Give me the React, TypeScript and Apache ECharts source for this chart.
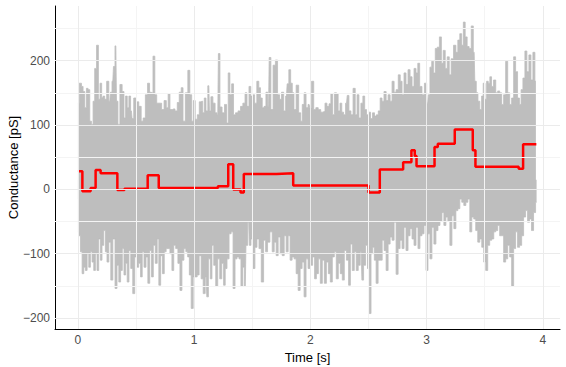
import React, { useEffect, useRef } from "react";
import * as echarts from "echarts";

// Red fitted step levels: [time s, conductance pS] at each change point
const redSteps: [number, number][] = [
  [0.0, 28], [0.038, -3], [0.109, 2], [0.152, 30], [0.195, 25], [0.339, -1], [0.4, 1],
  [0.6, 22], [0.695, 2], [1.204, 5], [1.293, 39], [1.336, 0], [1.399, -5], [1.427, 24],
  [1.708, 25], [1.852, 6], [2.5, -5], [2.597, 31], [2.798, 42], [2.869, 61], [2.898, 52],
  [2.913, 36], [3.068, 66], [3.096, 71], [3.242, 93], [3.397, 61], [3.42, 35], [3.792, 32],
  [3.83, 70], [3.944, 70],
];

// Upper envelope of the raw gray trace
const upperEnvelope: [number, number][] = [
  [0.0, 134], [0.023, 165], [0.037, 160], [0.051, 152], [0.066, 127], [0.08, 157], [0.094, 155],
  [0.109, 106], [0.123, 101], [0.137, 137], [0.151, 188], [0.169, 224], [0.183, 140], [0.197, 165],
  [0.211, 142], [0.223, 145], [0.237, 140], [0.257, 168], [0.274, 137], [0.286, 151], [0.3, 168],
  [0.311, 191], [0.326, 223], [0.337, 137], [0.351, 101], [0.371, 163], [0.389, 152], [0.403, 111],
  [0.417, 145], [0.431, 127], [0.446, 145], [0.46, 122], [0.471, 110], [0.489, 142], [0.509, 136],
  [0.537, 129], [0.551, 106], [0.571, 111], [0.589, 147], [0.609, 165], [0.623, 151], [0.637, 150],
  [0.654, 207], [0.669, 147], [0.686, 134], [0.709, 134], [0.731, 124], [0.751, 138], [0.769, 127],
  [0.783, 149], [0.8, 124], [0.823, 125], [0.846, 122], [0.863, 135], [0.88, 151], [0.897, 158],
  [0.911, 106], [0.937, 150], [0.954, 185], [0.971, 147], [0.986, 106], [1.0, 138], [1.017, 109],
  [1.037, 116], [1.051, 136], [1.066, 137], [1.08, 119], [1.094, 142], [1.109, 122], [1.126, 161],
  [1.137, 122], [1.151, 144], [1.171, 134], [1.189, 119], [1.203, 116], [1.214, 211], [1.229, 128],
  [1.251, 119], [1.271, 132], [1.286, 103], [1.3, 181], [1.314, 147], [1.331, 164], [1.346, 116],
  [1.366, 119], [1.389, 122], [1.409, 129], [1.429, 134], [1.446, 150], [1.463, 129], [1.48, 160],
  [1.494, 145], [1.511, 147], [1.529, 134], [1.549, 168], [1.563, 158], [1.577, 142], [1.594, 127],
  [1.609, 129], [1.626, 151], [1.64, 129], [1.651, 205], [1.669, 124], [1.689, 193], [1.709, 201],
  [1.726, 147], [1.743, 140], [1.76, 151], [1.78, 122], [1.794, 145], [1.806, 164], [1.823, 186],
  [1.837, 165], [1.851, 150], [1.866, 124], [1.889, 162], [1.909, 119], [1.923, 106], [1.937, 132],
  [1.954, 150], [1.971, 127], [1.989, 132],
  [2.0, 127], [2.02, 168], [2.037, 124], [2.057, 127], [2.077, 124], [2.1, 120], [2.117, 121],
  [2.134, 134], [2.151, 129], [2.169, 133], [2.183, 149], [2.2, 116], [2.214, 150], [2.231, 149],
  [2.246, 122], [2.263, 134], [2.277, 120], [2.294, 116], [2.311, 134], [2.323, 146], [2.34, 122],
  [2.357, 116], [2.377, 157], [2.394, 116], [2.409, 147], [2.426, 111], [2.443, 134], [2.46, 145],
  [2.474, 124], [2.491, 116], [2.509, 120], [2.526, 110], [2.543, 119], [2.56, 114], [2.577, 116],
  [2.591, 122], [2.609, 142], [2.623, 137], [2.643, 152], [2.66, 138], [2.677, 147], [2.694, 137],
  [2.711, 168], [2.729, 151], [2.746, 155], [2.766, 178], [2.78, 168], [2.797, 147], [2.814, 181],
  [2.831, 163], [2.849, 186], [2.866, 175], [2.883, 160], [2.9, 188], [2.917, 181], [2.931, 196],
  [2.949, 160], [2.971, 147], [2.991, 165], [3.009, 134], [3.02, 147], [3.037, 190], [3.051, 199],
  [3.066, 181], [3.083, 219], [3.1, 221], [3.12, 237], [3.134, 196], [3.151, 216], [3.169, 188],
  [3.186, 206], [3.203, 178], [3.22, 203], [3.243, 224], [3.26, 213], [3.277, 232], [3.294, 242],
  [3.309, 224], [3.323, 260], [3.34, 237], [3.357, 222], [3.374, 219], [3.394, 254], [3.409, 213],
  [3.42, 168], [3.434, 150], [3.449, 137], [3.466, 124], [3.48, 145], [3.494, 165], [3.509, 140],
  [3.523, 168], [3.537, 165], [3.551, 175], [3.566, 160], [3.586, 170], [3.603, 150], [3.62, 153],
  [3.637, 150], [3.654, 132], [3.671, 147], [3.689, 199], [3.706, 150], [3.723, 132], [3.74, 142],
  [3.757, 206], [3.774, 183], [3.791, 142], [3.806, 132], [3.82, 155], [3.837, 173], [3.854, 215],
  [3.871, 183], [3.889, 209], [3.906, 170], [3.923, 213], [3.94, 168],
];

// Lower envelope of the raw gray trace
const lowerEnvelope: [number, number][] = [
  [0.0, -66], [0.014, -72], [0.029, -97], [0.043, -131], [0.057, -121], [0.071, -126], [0.086, -100],
  [0.1, -121], [0.114, -97], [0.129, -113], [0.143, -126], [0.157, -100], [0.171, -126], [0.186, -77],
  [0.2, -110], [0.214, -87], [0.229, -64], [0.243, -97], [0.257, -113], [0.274, -82], [0.291, -141],
  [0.309, -77], [0.329, -154], [0.343, -118], [0.36, -144], [0.374, -126], [0.389, -92], [0.403, -133],
  [0.417, -115], [0.431, -144], [0.446, -95], [0.463, -123], [0.48, -162], [0.497, -105], [0.514, -121],
  [0.531, -115], [0.546, -136], [0.56, -97], [0.577, -121], [0.594, -105], [0.609, -146], [0.626, -95],
  [0.64, -136], [0.657, -87], [0.674, -115], [0.689, -77], [0.703, -149], [0.72, -103], [0.734, -131],
  [0.751, -97], [0.766, -92], [0.783, -92], [0.8, -100], [0.817, -126], [0.831, -87], [0.851, -92],
  [0.869, -115], [0.886, -157], [0.903, -110], [0.92, -92], [0.937, -97], [0.951, -105], [0.966, -133],
  [0.983, -185], [1.0, -136], [1.017, -136], [1.034, -133], [1.051, -103], [1.069, -139], [1.086, -162],
  [1.103, -136], [1.114, -167], [1.131, -108], [1.146, -139], [1.16, -87], [1.177, -118], [1.194, -151],
  [1.211, -108], [1.229, -139], [1.246, -115], [1.26, -149], [1.274, -123], [1.291, -108], [1.309, -69],
  [1.326, -66], [1.343, -154], [1.36, -108], [1.377, -105], [1.394, -108], [1.411, -151], [1.426, -121],
  [1.44, -151], [1.451, -87], [1.469, -51], [1.48, -87], [1.497, -77], [1.514, -123], [1.531, -90],
  [1.549, -77], [1.566, -92], [1.589, -144], [1.606, -79], [1.623, -97], [1.64, -82], [1.663, -66],
  [1.68, -97], [1.697, -82], [1.714, -103], [1.731, -74], [1.749, -100], [1.766, -103], [1.783, -72],
  [1.8, -97], [1.817, -72], [1.834, -110], [1.851, -105], [1.869, -108], [1.886, -131], [1.903, -157],
  [1.92, -123], [1.937, -113], [1.954, -167], [1.971, -108], [1.989, -123],
  [2.009, -118], [2.029, -105], [2.043, -139], [2.06, -131], [2.077, -108], [2.094, -146], [2.111, -110],
  [2.129, -146], [2.146, -113], [2.163, -131], [2.18, -144], [2.197, -105], [2.214, -97], [2.231, -139],
  [2.249, -115], [2.266, -131], [2.283, -141], [2.3, -95], [2.32, -110], [2.337, -149], [2.351, -85],
  [2.369, -126], [2.386, -97], [2.403, -126], [2.42, -118], [2.437, -97], [2.449, -141], [2.466, -118],
  [2.483, -87], [2.5, -123], [2.514, -193], [2.529, -100], [2.543, -90], [2.557, -110], [2.574, -146],
  [2.591, -110], [2.609, -110], [2.626, -79], [2.643, -95], [2.66, -126], [2.677, -85], [2.694, -74],
  [2.711, -79], [2.729, -51], [2.746, -132], [2.763, -92], [2.78, -79], [2.797, -92], [2.814, -59],
  [2.831, -95], [2.849, -72], [2.866, -61], [2.883, -77], [2.9, -87], [2.917, -59], [2.934, -92],
  [2.951, -72], [2.969, -69], [2.986, -56], [3.003, -126], [3.02, -69], [3.037, -108], [3.054, -59],
  [3.071, -85], [3.089, -64], [3.106, -56], [3.123, -49], [3.14, -36], [3.157, -56], [3.174, -43],
  [3.191, -49], [3.209, -87], [3.226, -41], [3.243, -61], [3.26, -33], [3.277, -30], [3.294, -15],
  [3.311, -20], [3.329, -25], [3.346, -20], [3.363, -15], [3.38, -66], [3.397, -43], [3.414, -46],
  [3.431, -64], [3.449, -82], [3.466, -77], [3.483, -90], [3.5, -113], [3.517, -126], [3.534, -87],
  [3.551, -79], [3.569, -77], [3.586, -66], [3.603, -64], [3.62, -56], [3.637, -72], [3.654, -72],
  [3.671, -113], [3.689, -108], [3.706, -87], [3.723, -105], [3.74, -150], [3.757, -92], [3.774, -66],
  [3.791, -90], [3.809, -87], [3.826, -72], [3.843, -43], [3.86, -33], [3.877, -51], [3.894, -46],
  [3.911, -64], [3.929, -36], [3.946, -20],
];

const xMajor = [0, 1, 2, 3, 4];
const xMinor = [0.5, 1.5, 2.5, 3.5];
const yMajor = [-200, -100, 0, 100, 200];
const yMinor = [-150, -50, 50, 150, 250];
const xLimits = [-0.1975, 4.1475];
const yLimits = [-217, 285];
const xTitle = "Time [s]";
const yTitle = "Conductance [pS]";

const FONT = "'Liberation Sans', Arial, Helvetica, sans-serif";

export default function App() {
  const ref = useRef<HTMLDivElement>(null);
  useEffect(() => {
    const chart = echarts.init(ref.current!, null, { renderer: "svg" });
    const minus = (v: number) => (v < 0 ? "\u2212" + Math.abs(v) : String(v));
    const isIn = (arr: number[], v: number) => arr.some((a) => Math.abs(a - v) < 1e-9);
    const majorStyle = { color: "#ebebeb", width: 1, type: "solid" };
    const minorStyle = { color: "#f4f4f4", width: 1, type: "solid" };
    const gridLines = [
      ...xMinor.map((v) => ({ xAxis: v, lineStyle: minorStyle })),
      ...yMinor.map((v) => ({ yAxis: v, lineStyle: minorStyle })),
      ...xMajor.map((v) => ({ xAxis: v, lineStyle: majorStyle })),
      ...yMajor.map((v) => ({ yAxis: v, lineStyle: majorStyle })),
    ];
    chart.setOption({
      animation: false,
      backgroundColor: "#ffffff",
      grid: { left: 55, right: 6, top: 6, bottom: 38, containLabel: false, outerBoundsMode: "none" },
      graphic: [
        {
          type: "text",
          x: 13,
          y: 167.5,
          rotation: Math.PI / 2,
          style: {
            text: yTitle,
            fontFamily: FONT,
            fontSize: 13,
            fill: "#000",
            align: "center",
            verticalAlign: "middle",
          },
        },
      ],
      xAxis: {
        type: "value",
        min: xLimits[0],
        max: xLimits[1],
        name: xTitle,
        nameLocation: "middle",
        nameGap: 13,
        nameTextStyle: { fontFamily: FONT, fontSize: 13, color: "#000", verticalAlign: "top" },
        axisLine: { show: true, onZero: false, lineStyle: { color: "#000", width: 1 } },
        axisTick: { show: false },
        splitLine: { show: false },
        axisLabel: {
          margin: 5,
          fontFamily: FONT,
          fontSize: 12,
          color: "#4d4d4d",
          formatter: (v: number) => (isIn(xMajor, v) ? minus(Math.round(v)) : ""),
        },
      },
      yAxis: {
        type: "value",
        min: yLimits[0],
        max: yLimits[1],
        axisLine: { show: true, onZero: false, lineStyle: { color: "#000", width: 1 } },
        axisTick: { show: false },
        splitLine: { show: false },
        axisLabel: {
          margin: 5,
          fontFamily: FONT,
          fontSize: 12,
          color: "#4d4d4d",
          formatter: (v: number) => (isIn(yMajor, v) ? minus(Math.round(v)) : ""),
        },
      },
      series: [
        {
          type: "line",
          name: "grid",
          z: 1,
          data: [],
          symbol: "none",
          silent: true,
          markLine: {
            silent: true,
            symbol: ["none", "none"],
            label: { show: false },
            animation: false,
            data: gridLines,
          },
        },
        {
          type: "line",
          name: "raw-upper",
          z: 2,
          data: upperEnvelope,
          step: "middle",
          symbol: "none",
          silent: true,
          lineStyle: { color: "#bebebe", width: 0.8 },
          areaStyle: { color: "#bebebe", opacity: 1, origin: -15 },
        },
        {
          type: "line",
          name: "raw-lower",
          z: 2,
          data: lowerEnvelope,
          step: "middle",
          symbol: "none",
          silent: true,
          lineStyle: { color: "#bebebe", width: 0.8 },
          areaStyle: { color: "#bebebe", opacity: 1, origin: 15 },
        },
        {
          type: "line",
          name: "fit",
          z: 3,
          data: redSteps,
          step: "end",
          symbol: "none",
          silent: true,
          lineStyle: { color: "#ff0000", width: 2.5 },
        },
      ],
    });
    return () => chart.dispose();
  }, []);
  return (
    <div
      ref={ref}
      style={{ position: "fixed", left: 0, top: 0, width: 566, height: 367, background: "#fff" }}
    />
  );
}
